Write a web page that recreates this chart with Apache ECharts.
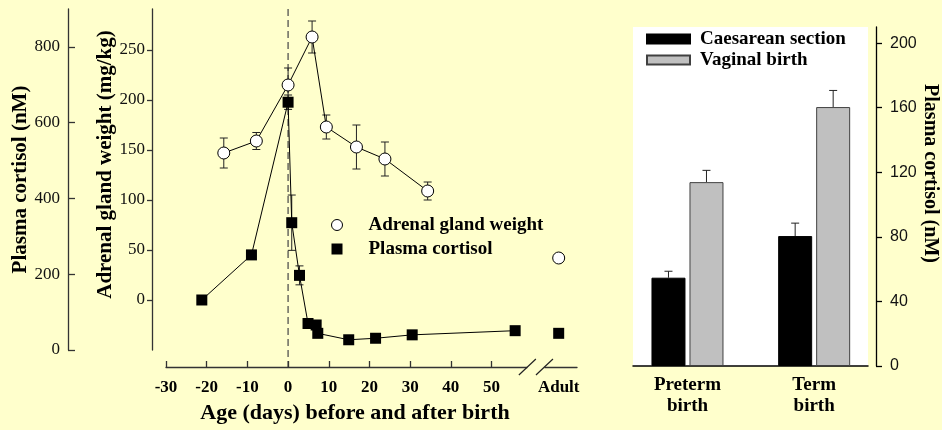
<!DOCTYPE html>
<html><head><meta charset="utf-8">
<script src="https://cdn.jsdelivr.net/npm/echarts@6/dist/echarts.min.js"></script>
<style>html,body{margin:0;padding:0;background:#FFFFCC;} #c{width:942px;height:430px;}</style>
</head><body><div id="c"></div>
<script>
// ---------------- data ----------------
const adrenalDays   = [-15.8, -7.8, 0, 5.9, 9.4, 16.8, 23.8, 34.3];
const adrenalWeight = [147, 159, 215, 263, 173, 153, 141, 109];
const adrenalSem    = [15, 8.5, 17, 16, 12, 22, 17, 9];
const adrenalAdult  = 42;

const cortisolDays  = [-21.2, -9.0, 0, 0.9, 2.8, 4.9, 6.9, 7.3, 14.9, 21.5, 30.5, 55.8];
const cortisolNM    = [132, 251, 654, 336, 197, 70, 66, 44, 27, 31, 40, 51];
const cortisolSem   = [0, 0, 19, 73, 25, 0, 0, 0, 0, 0, 0, 0];
const cortisolAdult = 44;

const adultDay      = 66.5;          // where "Adult" sits on the broken age axis
const breakDays     = [58.8, 63.0];  // axis break
const ageTicks      = [-30, -20, -10, 0, 10, 20, 30, 40, 50];
const cortisolTicks = [0, 200, 400, 600, 800];
const adrenalTicks  = [0, 50, 100, 150, 200, 250];

const birthGroups   = ['Preterm\nbirth', 'Term\nbirth'];
const caesarean     = [54.7, 80.5];
const caesareanSem  = [4, 8];
const vaginal       = [113.9, 160.4];
const vaginalSem    = [7.3, 10.3];
const barTicks      = [0, 40, 80, 120, 160, 200];

// ---------------- styling ----------------
const SERIF = 'Liberation Serif, Times New Roman, serif';
const SANS = 'Liberation Sans, Arial, sans-serif';
const AX = '#333';
const BAR_W = 34, BAR_GAP_PX = 4;
const X_OFFSET = 17;

function errSeries(xs, ys, es, xi, yi, dx, onlyUp) {
  return {
    type: 'custom', xAxisIndex: xi, yAxisIndex: yi, z: 1, silent: true,
    dimensions: ['x', 'y', 'e'], encode: { x: 0, y: 1 },
    data: xs.map((x, i) => [x, ys[i], es[i]]).filter(d => d[2] > 0),
    renderItem(params, api) {
      const x = api.value(0), y = api.value(1), e = api.value(2);
      const c = api.coord([x, y]), hi = api.coord([x, y + e]), lo = api.coord([x, y - e]);
      const px = c[0] + dx, w = 4;
      const st = { stroke: '#222', lineWidth: 1 };
      const ch = [
        { type: 'line', shape: { x1: px, y1: hi[1], x2: px, y2: onlyUp ? c[1] : lo[1] }, style: st },
        { type: 'line', shape: { x1: px - w, y1: hi[1], x2: px + w, y2: hi[1] }, style: st }
      ];
      if (!onlyUp) ch.push({ type: 'line', shape: { x1: px - w, y1: lo[1], x2: px + w, y2: lo[1] }, style: st });
      return { type: 'group', children: ch };
    }
  };
}

const chart = echarts.init(document.getElementById('c'), null, { renderer: 'canvas' });

const option = {
  backgroundColor: '#FFFFCC',
  animation: false,
  grid: [
    { left: 166, top: 9, width: 411, height: 341, containLabel: false },
    { left: 633, top: 27, width: 235, height: 339, show: true, backgroundColor: '#ffffff', borderWidth: 0 }
  ],
  legend: [
    {
      orient: 'vertical', left: 326, top: 210, itemWidth: 11, itemHeight: 11, itemGap: 4,
      data: [
        { name: 'Adrenal gland weight', icon: 'circle', itemStyle: { color: '#fff', borderColor: '#000', borderWidth: 1 } },
        { name: 'Plasma cortisol', icon: 'rect', itemStyle: { color: '#000' } }
      ],
      textStyle: { fontFamily: SERIF, fontWeight: 'bold', fontSize: 19, lineHeight: 20, color: '#000', padding: [0, 0, 0, 21] }
    },
    {
      orient: 'vertical', left: 641, top: 24, itemWidth: 43, itemHeight: 9, itemGap: 1,
      data: [
        { name: 'Caesarean section', icon: 'rect' },
        { name: 'Vaginal birth', icon: 'rect' }
      ],
      textStyle: { fontFamily: SERIF, fontWeight: 'bold', fontSize: 19, lineHeight: 20, color: '#000', padding: [0, 0, 0, 5] }
    }
  ],
  xAxis: [
    {
      gridIndex: 0, type: 'value', min: -30, max: 71, offset: X_OFFSET,
      axisLine: { onZero: false, lineStyle: { color: AX, width: 1.3 } },
      axisTick: { inside: true, length: 6, customValues: ageTicks, lineStyle: { color: AX, width: 1.3 } },
      axisLabel: {
        customValues: ageTicks.concat([adultDay]),
        formatter: v => (v === adultDay ? 'Adult' : String(v)),
        fontFamily: SERIF, fontWeight: 'bold', fontSize: 17, color: '#000', margin: 12
      },
      splitLine: { show: false },
      name: 'Age (days) before and after birth', nameLocation: 'middle', nameGap: 35,
      nameTextStyle: { fontFamily: SERIF, fontWeight: 'bold', fontSize: 22, color: '#000', padding: [0, 33, 0, 0] }
    },
    {
      gridIndex: 1, type: 'value', min: -0.43, max: 1.425,
      axisLine: { onZero: false, lineStyle: { color: '#000', width: 1.5 } },
      axisTick: { show: false },
      axisLabel: {
        customValues: [0, 1], formatter: v => birthGroups[v],
        fontFamily: SERIF, fontWeight: 'bold', fontSize: 19, lineHeight: 21, color: '#000', margin: 9
      },
      splitLine: { show: false }
    }
  ],
  yAxis: [
    {
      gridIndex: 0, type: 'value', position: 'left', offset: 98, min: 0, max: 900,
      axisLine: { show: true, onZero: false, lineStyle: { color: AX, width: 1.3 } },
      axisTick: { show: true, inside: true, length: 7, customValues: cortisolTicks, lineStyle: { color: AX, width: 1.3 } },
      axisLabel: { customValues: cortisolTicks, fontFamily: SERIF, fontSize: 17, color: '#111', margin: 8 },
      splitLine: { show: false },
      name: 'Plasma cortisol (nM)', nameLocation: 'middle', nameGap: 36,
      nameTextStyle: { fontFamily: SERIF, fontWeight: 'bold', fontSize: 21, color: '#000' }
    },
    {
      gridIndex: 0, type: 'value', position: 'left', offset: 14, min: -50, max: 291,
      axisLine: { show: true, onZero: false, lineStyle: { color: AX, width: 1.3 } },
      axisTick: { show: true, length: 5, customValues: adrenalTicks, lineStyle: { color: AX, width: 1.3 } },
      axisLabel: { customValues: adrenalTicks, fontFamily: SERIF, fontSize: 17, color: '#111', margin: 7 },
      splitLine: { show: false },
      name: 'Adrenal gland weight (mg/kg)', nameLocation: 'middle', nameGap: 32,
      nameTextStyle: { fontFamily: SERIF, fontWeight: 'bold', fontSize: 21, color: '#000', padding: [0, 0, 0, 30] }
    },
    {
      gridIndex: 1, type: 'value', position: 'right', offset: 8, min: 0, max: 210,
      axisLine: { show: true, onZero: false, lineStyle: { color: '#000', width: 1.3 } },
      axisTick: { show: true, length: 6, customValues: barTicks, lineStyle: { color: '#000', width: 1.3 } },
      axisLabel: { customValues: barTicks, fontFamily: SANS, fontSize: 16, color: '#111', margin: 14 },
      splitLine: { show: false },
      name: 'Plasma cortisol (nM)', nameLocation: 'middle', nameGap: 44, nameRotate: -90,
      nameTextStyle: { fontFamily: SERIF, fontWeight: 'bold', fontSize: 20, color: '#000', padding: [0, 46, 0, 0] }
    }
  ],
  series: [
    errSeries(adrenalDays, adrenalWeight, adrenalSem, 0, 1, 0, false),
    errSeries(cortisolDays, cortisolNM, cortisolSem, 0, 0, 0, false),
    {
      name: 'Plasma cortisol', type: 'line', xAxisIndex: 0, yAxisIndex: 0, z: 3,
      data: cortisolDays.map((d, i) => [d, cortisolNM[i]]),
      symbol: 'rect', symbolSize: 11, showAllSymbol: true,
      itemStyle: { color: '#000' }, lineStyle: { color: '#000', width: 1 }
    },
    {
      name: 'Plasma cortisol', type: 'scatter', xAxisIndex: 0, yAxisIndex: 0, z: 3,
      data: [[adultDay, cortisolAdult]], symbol: 'rect', symbolSize: 11, itemStyle: { color: '#000', opacity: 1 }
    },
    {
      name: 'Adrenal gland weight', type: 'line', xAxisIndex: 0, yAxisIndex: 1, z: 4,
      data: adrenalDays.map((d, i) => [d, adrenalWeight[i]]),
      symbol: 'circle', symbolSize: 12, showAllSymbol: true,
      itemStyle: { color: '#fff', borderColor: '#000', borderWidth: 1 }, lineStyle: { color: '#000', width: 1 }
    },
    {
      name: 'Adrenal gland weight', type: 'scatter', xAxisIndex: 0, yAxisIndex: 1, z: 4,
      data: [[adultDay, adrenalAdult]], symbol: 'circle', symbolSize: 12,
      itemStyle: { color: '#fff', borderColor: '#000', borderWidth: 1, opacity: 1 }
    },
    {
      name: 'Caesarean section', type: 'bar', xAxisIndex: 1, yAxisIndex: 2,
      data: caesarean.map((v, i) => [i, v]), barWidth: BAR_W, barGap: (BAR_GAP_PX / BAR_W * 100) + '%',
      itemStyle: { color: '#000', borderColor: '#000', borderWidth: 1 }
    },
    {
      name: 'Vaginal birth', type: 'bar', xAxisIndex: 1, yAxisIndex: 2,
      data: vaginal.map((v, i) => [i, v]), barWidth: BAR_W, barGap: (BAR_GAP_PX / BAR_W * 100) + '%',
      itemStyle: { color: '#C0C0C0', borderColor: '#404040', borderWidth: 1 }
    },
    errSeries(birthGroups.map((g, i) => i), caesarean, caesareanSem, 1, 2, -(BAR_W + BAR_GAP_PX) / 2, true),
    errSeries(birthGroups.map((g, i) => i), vaginal, vaginalSem, 1, 2, (BAR_W + BAR_GAP_PX) / 2, true)
  ]
};
chart.setOption(option);

// decorations: birth (day 0) dashed line and axis-break marks
const p0 = chart.convertToPixel({ xAxisIndex: 0, yAxisIndex: 0 }, [0, 900]);
const pBottom = chart.convertToPixel({ xAxisIndex: 0, yAxisIndex: 0 }, [0, 0]);
const axisY = pBottom[1] + X_OFFSET;
const b1 = chart.convertToPixel({ xAxisIndex: 0, yAxisIndex: 0 }, [breakDays[0], 0])[0];
const b2 = chart.convertToPixel({ xAxisIndex: 0, yAxisIndex: 0 }, [breakDays[1], 0])[0];
chart.setOption({
  graphic: [
    { type: 'line', z: 0, shape: { x1: p0[0], y1: p0[1], x2: p0[0], y2: axisY }, style: { stroke: '#444', lineWidth: 1.2, lineDash: [7, 4] } },
    { type: 'rect', z: 10, shape: { x: b1, y: axisY - 3, width: b2 - b1, height: 6 }, style: { fill: '#FFFFCC' } },
    { type: 'line', z: 11, shape: { x1: b1 - 8.5, y1: axisY + 8, x2: b1 + 8.5, y2: axisY - 8 }, style: { stroke: '#222', lineWidth: 1.2 } },
    { type: 'line', z: 11, shape: { x1: b2 - 8.5, y1: axisY + 8, x2: b2 + 8.5, y2: axisY - 8 }, style: { stroke: '#222', lineWidth: 1.2 } }
  ]
});
</script>
</body></html>
